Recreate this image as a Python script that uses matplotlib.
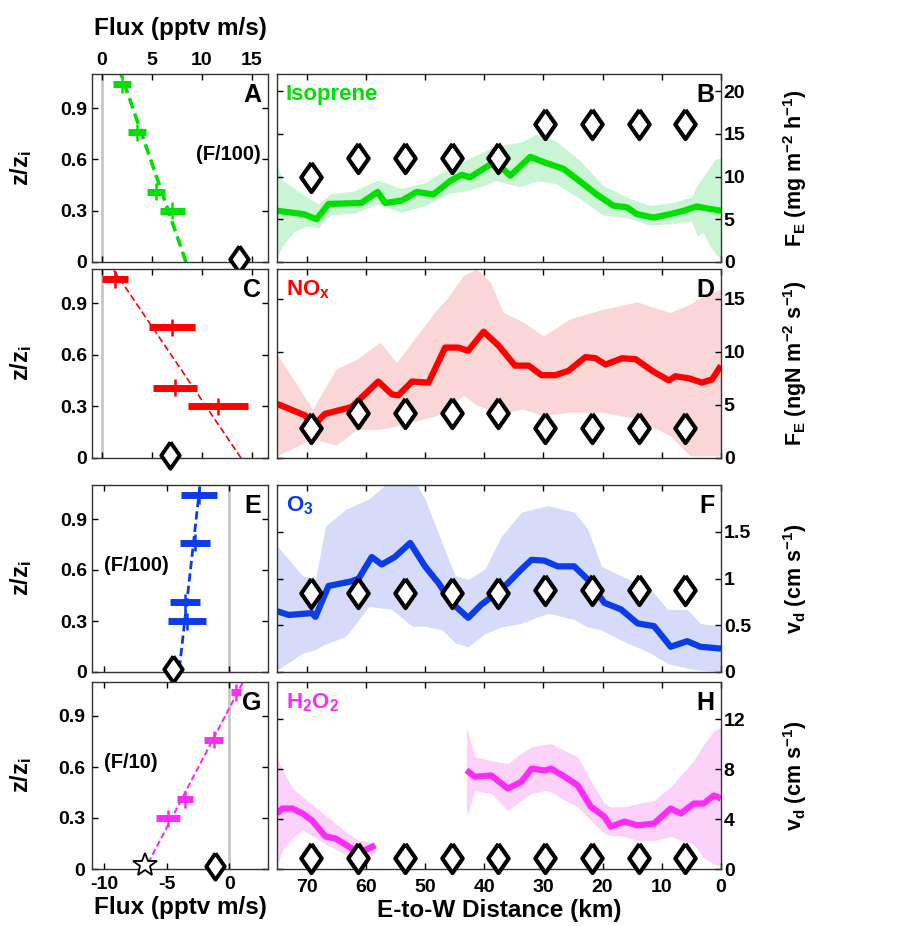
import numpy as np
import matplotlib
matplotlib.use('Agg')
import matplotlib.pyplot as plt

plt.rcParams['font.family'] = ['Liberation Sans', 'DejaVu Sans']
plt.rcParams['font.weight'] = 'bold'
plt.rcParams['mathtext.fontset'] = 'custom'
plt.rcParams['mathtext.rm'] = 'Liberation Sans:bold'
plt.rcParams['mathtext.it'] = 'Liberation Sans:bold'
plt.rcParams['mathtext.bf'] = 'Liberation Sans:bold'
plt.rcParams['mathtext.default'] = 'rm'
plt.rcParams['axes.unicode_minus'] = False

# ---------------- data: right panels (E-to-W distance, km) ----------------
diamond_km = [69.2, 61.3, 53.4, 45.5, 37.6, 29.7, 21.8, 13.9, 6.0]
iso_diamonds = [10.0, 12.2, 12.2, 12.2, 12.2, 16.2, 16.2, 16.2, 16.2]
nox_diamonds = [2.8, 4.2, 4.2, 4.2, 4.2, 2.8, 2.8, 2.8, 2.8]
o3_diamonds = [0.85, 0.85, 0.85, 0.85, 0.85, 0.88, 0.88, 0.88, 0.88]
h2o2_diamonds = [0.9, 0.9, 0.9, 0.9, 0.9, 0.9, 0.9, 0.9, 0.9]

iso_km = [75.0, 70.5, 68.3, 66.3, 60.8, 58.0, 56.7, 53.9, 51.4, 48.6, 45.7, 43.8, 42.4, 39.0, 37.3,
          35.6, 32.2, 30.0, 26.6, 23.2, 21.0, 18.2, 15.9, 14.2, 11.4, 8.6, 6.3, 4.1, 1.8, 0.0]
iso_val = [6.0, 5.6, 5.0, 6.8, 6.9, 8.2, 6.9, 7.2, 8.2, 7.9, 9.5, 10.2, 9.9, 11.4, 11.2,
           10.1, 12.3, 11.7, 10.9, 9.1, 7.9, 6.6, 6.4, 5.6, 5.2, 5.6, 6.0, 6.5, 6.2, 6.0]
iso_band_km = [75, 74, 72, 70, 68, 66, 62, 58, 54, 50, 46, 42, 38, 34, 31, 28, 24, 20, 16, 12, 8, 5, 4, 3, 2, 1, 0]
iso_upper = [11.5, 9.5, 8.6, 7.6, 6.8, 8.0, 8.3, 9.6, 8.6, 9.3, 11.0, 12.3, 13.6, 14.0, 15.0, 14.2, 12.0,
             9.0, 7.6, 6.6, 7.0, 7.6, 9.0, 10.0, 11.0, 12.0, 12.2]
iso_lower = [0.5, 2.0, 3.6, 4.2, 4.0, 5.5, 5.7, 6.8, 5.8, 6.6, 8.0, 8.5, 9.5, 8.8, 9.5, 9.2, 7.5,
             5.5, 5.2, 4.3, 4.5, 4.8, 3.0, 3.5, 2.0, 1.0, 0.3]

nox_km = [75.0, 70.2, 69.1, 66.9, 62.4, 57.9, 55.6, 54.5, 52.2, 49.4, 46.6, 44.4, 42.7, 40.1, 37.6, 34.8,
          32.5, 30.3, 28.0, 25.8, 22.9, 21.2, 19.5, 16.7, 14.4, 11.6, 8.8, 7.7, 5.4, 3.2, 1.5, 0.0]
nox_val = [5.1, 4.0, 2.9, 4.15, 4.8, 7.2, 6.0, 5.9, 7.2, 7.1, 10.4, 10.4, 10.1, 11.9, 10.6, 8.7,
           8.7, 7.8, 7.8, 8.2, 9.5, 9.4, 8.8, 9.4, 9.3, 8.2, 7.3, 7.7, 7.5, 7.1, 7.4, 8.7]
nox_band_km = [75, 69, 65, 61.5, 57.6, 54.8, 51.4, 48, 46.3, 43.5, 41.3, 39, 36.8, 33.4, 30, 25.5, 20,
               14.2, 8.6, 5.2, 2.9, 0]
nox_upper = [9.8, 4.6, 8.4, 9.3, 10.9, 9.0, 11.5, 14.0, 15.0, 17.2, 17.8, 16.6, 13.7, 12.8, 11.5, 13.1,
             14.0, 14.7, 13.7, 14.5, 15.3, 15.9]
nox_lower = [0.2, 1.8, 1.2, 2.7, 2.7, 3.0, 3.5, 4.0, 4.6, 5.9, 5.0, 4.5, 4.3, 4.6, 4.0, 4.3, 4.3,
             3.7, 2.1, 0.2, 0.2, 0.2]

o3_km = [75.0, 73.0, 69.1, 68.5, 66.3, 62.4, 61.2, 59.0, 57.3, 55.1, 52.5, 50.0, 47.7, 45.5, 42.7, 40.5,
         38.2, 36.0, 33.7, 32.0, 29.8, 27.6, 24.8, 22.5, 19.7, 16.9, 14.1, 11.3, 8.5, 5.7, 3.5, 0.0]
o3_val = [0.65, 0.61, 0.63, 0.59, 0.92, 0.97, 1.0, 1.23, 1.15, 1.23, 1.38, 1.13, 0.95, 0.74, 0.58, 0.72,
          0.83, 0.95, 1.10, 1.20, 1.19, 1.13, 1.13, 0.99, 0.74, 0.67, 0.52, 0.49, 0.27, 0.33, 0.27, 0.25]
o3_band_km = [75, 70.7, 68.5, 66.8, 63.4, 59.5, 55.6, 52.2, 50.0, 47.1, 44.9, 42.7, 39.9, 37.1, 33.7,
              29.2, 24.8, 22.5, 20.2, 16.9, 11.8, 9.0, 5.7, 3.5, 0.0]
o3_upper = [1.35, 1.03, 0.99, 1.56, 1.74, 1.85, 2.06, 2.10, 1.85, 1.38, 1.03, 0.99, 1.10, 1.45, 1.71,
            1.78, 1.71, 1.53, 1.13, 1.03, 0.88, 0.67, 0.67, 0.52, 0.49]
o3_lower = [0.02, 0.20, 0.24, 0.30, 0.38, 0.70, 0.67, 0.49, 0.49, 0.45, 0.31, 0.27, 0.41, 0.48, 0.52,
            0.63, 0.56, 0.48, 0.45, 0.34, 0.20, 0.09, 0.04, 0.02, 0.0]

h2o2_km1 = [75.0, 74.1, 72.4, 70.7, 69.1, 66.8, 65.1, 62.9, 61.2, 59.5, 58.4]
h2o2_val1 = [4.45, 4.85, 4.85, 4.45, 3.9, 2.6, 2.45, 1.8, 1.3, 1.65, 1.9]
h2o2_upper1 = [8.97, 8.0, 6.5, 5.8, 5.2, 4.3, 3.65, 2.8, 2.3, 2.2, 2.0]
h2o2_lower1 = [0.2, 1.5, 2.5, 3.1, 2.7, 2.0, 1.6, 1.0, 0.7, 1.0, 1.25]
h2o2_km2 = [43.0, 41.6, 38.8, 36.0, 33.7, 32.0, 29.8, 28.7, 26.4, 24.2, 22.0, 19.7, 18.6, 16.3, 14.1,
            11.3, 8.5, 6.8, 4.6, 2.9, 1.2, 0.0]
h2o2_val2 = [7.92, 7.4, 7.5, 6.45, 7.0, 8.05, 7.9, 8.05, 7.4, 6.7, 5.0, 4.2, 3.4, 3.8, 3.5,
             3.65, 4.85, 4.45, 5.25, 5.25, 5.9, 5.65]
h2o2_upper2 = [11.4, 9.0, 8.7, 8.45, 9.3, 9.8, 10.0, 10.05, 9.5, 9.0, 7.1, 5.25, 5.0, 5.0, 5.25,
               5.5, 6.6, 7.5, 8.7, 10.0, 11.1, 11.4]
h2o2_lower2 = [4.2, 6.3, 6.05, 4.7, 5.5, 6.05, 6.3, 6.2, 5.5, 5.0, 3.9, 2.85, 2.7, 2.6, 2.3,
               2.3, 2.6, 2.3, 2.0, 0.9, 0.4, 0.2]

# ---------------- data: left panels (flux profiles) ----------------
prof_z = [1.04, 0.76, 0.41, 0.30]
iso_flux = [1.97, 3.5, 5.4, 7.0]
iso_flux_err = [0.9, 0.9, 0.9, 1.25]
iso_surf = 13.7
iso_fit_z = [0.0, 1.1]
iso_fit_flux = [8.4, 1.9]

nox_flux = [1.3, 7.0, 7.3, 11.6]
nox_flux_err = [1.33, 2.3, 2.17, 3.0]
nox_surf = 6.8
nox_fit_z = [0.0, 1.1]
nox_fit_flux = [13.9, 1.1]

o3_flux = [-2.4, -2.74, -3.55, -3.4]
o3_flux_err = [1.44, 1.2, 1.2, 1.53]
o3_surf = -4.54
o3_fit_z = [0.02, 1.1]
o3_fit_flux = [-4.0, -2.35]

h2o2_flux = [0.51, -1.26, -3.55, -4.9]
h2o2_flux_err = [0.4, 0.74, 0.65, 0.94]
h2o2_surf = -1.18
h2o2_star = -6.72
h2o2_fit_z = [0.035, 1.1]
h2o2_fit_flux = [-6.5, 1.1]

zi_ticks = [0, 0.3, 0.6, 0.9]
zi_ticklabels = ['0', '0.3', '0.6', '0.9']
km_ticks = [70, 60, 50, 40, 30, 20, 10, 0]

# ---------------- styling ----------------
GREEN, GREEN_L = '#00e000', '#c9f5d4'
RED, RED_L = '#ff0000', '#fbd6d6'
BLUE, BLUE_L = '#0a3de8', '#d5dbf8'
MAG, MAG_L = '#fb2cf5', '#fcd2fb'
TICK_FS = 14
DIAMOND = [(0, 1), (0.7, 0), (0, -1), (-0.7, 0), (0, 1)]

W, H = 917, 926
fig = plt.figure(figsize=(W / 100, H / 100), dpi=100)


def fax(x0, y0, x1, y1):
    return fig.add_axes([x0 / W, 1 - y1 / H, (x1 - x0) / W, (y1 - y0) / H])


rows = [(74, 262), (269, 458), (485, 672), (682, 869)]
LX0, LX1 = 92, 268
RX0, RX1 = 277, 721

left_axes = [fax(LX0, r[0], LX1, r[1]) for r in rows]
right_axes = [fax(RX0, r[0], RX1, r[1]) for r in rows]

for ax in left_axes + right_axes:
    ax.tick_params(direction='in', length=4, width=1, top=True, right=True,
                   labelsize=TICK_FS, colors='black')
    for s in ax.spines.values():
        s.set_linewidth(1.0)
        s.set_color('#333333')

# ---- left panels ----
left_specs = [
    (iso_flux, iso_flux_err, iso_surf, iso_fit_z, iso_fit_flux, GREEN, (-1, 16.6), 'A', '(F/100)', 2.6),
    (nox_flux, nox_flux_err, nox_surf, nox_fit_z, nox_fit_flux, RED, (-1, 16.6), 'C', None, 1.2),
    (o3_flux, o3_flux_err, o3_surf, o3_fit_z, o3_fit_flux, BLUE, (-11, 3.1), 'E', '(F/100)', 2.0),
    (h2o2_flux, h2o2_flux_err, h2o2_surf, h2o2_fit_z, h2o2_fit_flux, MAG, (-11, 3.1), 'G', '(F/10)', 1.5),
]
for i, (ax, spec) in enumerate(zip(left_axes, left_specs)):
    flux, ferr, surf, fz, ff, col, xl, letter, note, flw = spec
    ax.axvline(0, color='#c8c8c8', lw=2, zorder=1)
    ax.plot(ff, fz, ls=(0, (3, 1.5)) if flw > 1.3 else (0, (4, 2)), color=col, lw=flw, zorder=2)
    ax.errorbar(flux, prof_z, xerr=ferr, fmt='none', ecolor=col, elinewidth=5, capsize=0, zorder=3)
    ax.errorbar(flux, prof_z, yerr=0.05, fmt='none', ecolor=col, elinewidth=1.8, capsize=0, zorder=3)
    ax.plot([surf], [0.02], marker=DIAMOND, ms=19, mfc='white', mec='black', mew=2.8,
            ls='none', clip_on=False, zorder=5)
    if letter == 'G':
        ax.plot([h2o2_star], [0.025], marker='*', ms=18, mfc='white', mec='black', mew=1.3,
                ls='none', clip_on=False, zorder=5)
    ax.set_xlim(*xl)
    ax.set_ylim(0, 1.1)
    ax.set_yticks(zi_ticks)
    ax.set_yticklabels(zi_ticklabels)
    ax.set_ylabel(r'z/z$_i$', fontsize=17, fontweight='bold')
    ax.yaxis.set_label_coords(-0.33, 0.5)
    if i == 0:
        ax.set_xticks([0, 5, 10, 15])
        ax.tick_params(labeltop=True, labelbottom=False)
        ax.xaxis.set_label_position('top')
        ax.set_xlabel('Flux (pptv m/s)', fontsize=17.5, fontweight='bold', labelpad=12)
    elif i == 1:
        ax.set_xticks([0, 5, 10, 15])
        ax.tick_params(labelbottom=False)
    elif i == 2:
        ax.set_xticks([-10, -5, 0])
        ax.tick_params(labelbottom=False)
    else:
        ax.set_xticks([-10, -5, 0])
        ax.tick_params(pad=5)
        ax.set_xlabel('Flux (pptv m/s)', fontsize=17.5, fontweight='bold', labelpad=2)
    ax.text(0.96, 0.95, letter, transform=ax.transAxes, ha='right', va='top',
            fontsize=18, fontweight='bold')
    if note:
        nx = 0.96 if i == 0 else 0.07
        ax.text(nx, 0.57, note, transform=ax.transAxes, ha='right' if i == 0 else 'left',
                va='center', fontsize=14.5, fontweight='bold')

# ---- right panels ----
right_specs = [
    ([(iso_km, iso_val, iso_band_km, iso_lower, iso_upper)], iso_diamonds, GREEN, GREEN_L, (0, 22),
     [0, 5, 10, 15, 20], ['0', '5', '10', '15', '20'], 'B', 'Isoprene',
     r'F$_E$ (mg m$^{-2}$ h$^{-1}$)'),
    ([(nox_km, nox_val, nox_band_km, nox_lower, nox_upper)], nox_diamonds, RED, RED_L, (0, 17.8),
     [0, 5, 10, 15], ['0', '5', '10', '15'], 'D', r'NO$_x$',
     r'F$_E$ (ngN m$^{-2}$ s$^{-1}$)'),
    ([(o3_km, o3_val, o3_band_km, o3_lower, o3_upper)], o3_diamonds, BLUE, BLUE_L, (0, 2.0),
     [0, 0.5, 1, 1.5], ['0', '0.5', '1', '1.5'], 'F', r'O$_3$',
     r'v$_d$ (cm s$^{-1}$)'),
    ([(h2o2_km1, h2o2_val1, h2o2_km1, h2o2_lower1, h2o2_upper1),
      (h2o2_km2, h2o2_val2, h2o2_km2, h2o2_lower2, h2o2_upper2)], h2o2_diamonds, MAG, MAG_L, (0, 15),
     [0, 4, 8, 12], ['0', '4', '8', '12'], 'H', r'H$_2$O$_2$',
     r'v$_d$ (cm s$^{-1}$)'),
]
for i, (ax, spec) in enumerate(zip(right_axes, right_specs)):
    segs, dia, col, coll, yl, yt, ytl, letter, name, ylab = spec
    for km, val, bkm, lo, up in segs:
        ax.fill_between(bkm, lo, up, color=coll, lw=0, zorder=1)
        ax.plot(km, val, color=col, lw=4.5, solid_capstyle='butt', zorder=2)
    ax.plot(diamond_km, dia, marker=DIAMOND, ms=21, mfc='white', mec='black', mew=3,
            ls='none', zorder=5, clip_on=False)
    ax.set_xlim(75, 0)
    ax.set_ylim(*yl)
    ax.set_xticks(km_ticks)
    ax.set_yticks(yt)
    ax.set_yticklabels(ytl)
    ax.tick_params(axis='y', labelleft=False, labelright=True, pad=2)
    ax.yaxis.set_label_position('right')
    ax.set_ylabel(ylab, fontsize=15.5, fontweight='bold', rotation=90)
    ax.yaxis.set_label_coords(1.135, 0.5)
    if i < 3:
        ax.tick_params(labelbottom=False)
    else:
        ax.tick_params(axis='x', pad=7)
        ax.set_xlabel('E-to-W Distance (km)', fontsize=17.5, fontweight='bold', labelpad=2)
    ax.text(0.985, 0.95, letter, transform=ax.transAxes, ha='right', va='top',
            fontsize=18, fontweight='bold')
    ax.text(0.02, 0.89, name, transform=ax.transAxes, ha='left', va='center',
            fontsize=16, fontweight='bold', color=col)

fig.savefig('out.png', dpi=100)
